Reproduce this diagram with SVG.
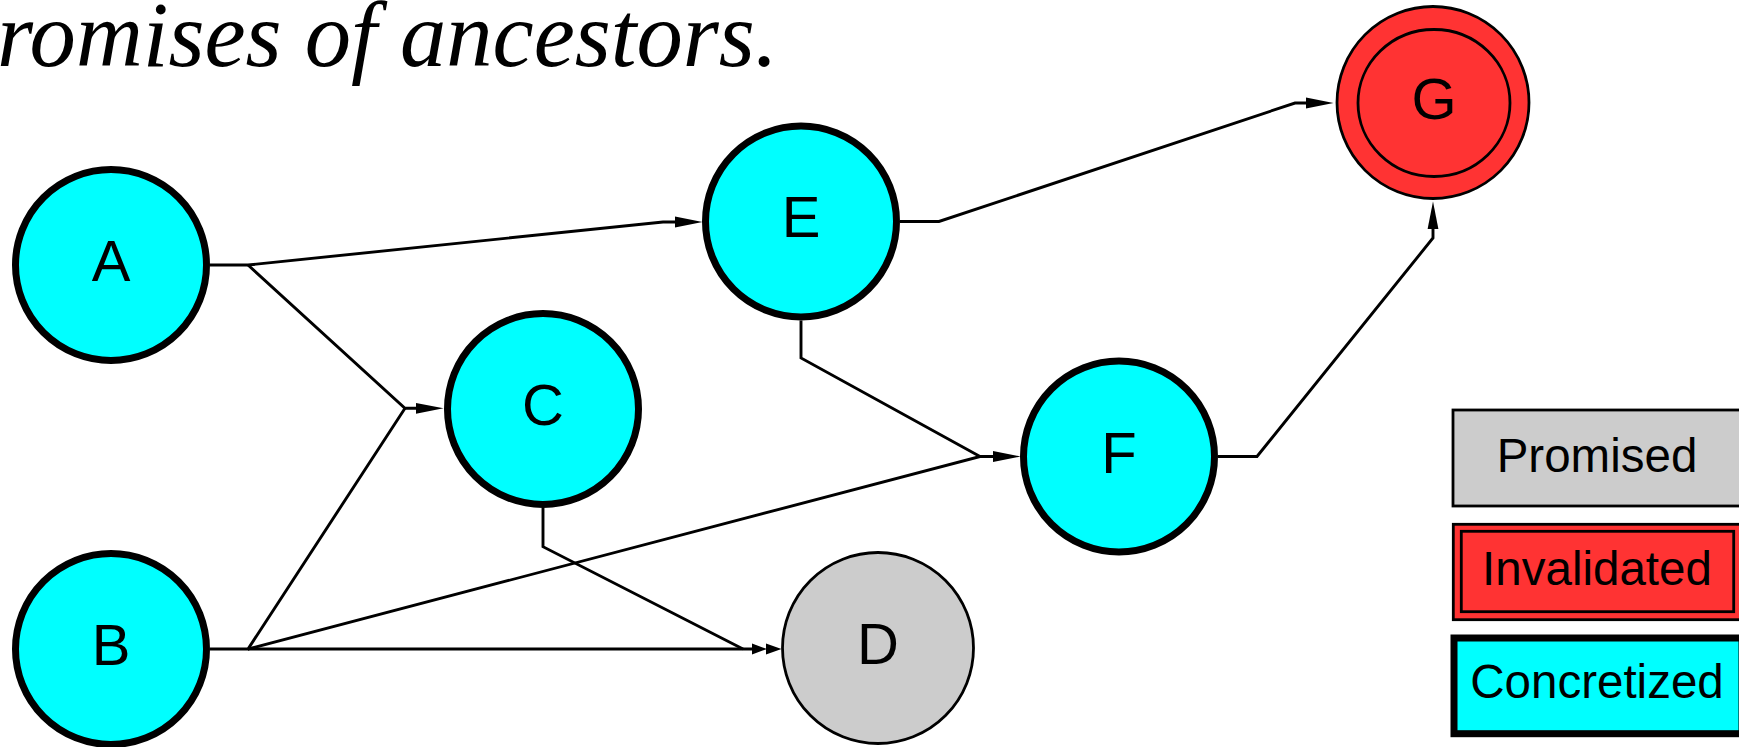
<svg xmlns="http://www.w3.org/2000/svg" width="1739" height="747" viewBox="0 0 1739 747">
  <style>
    .title { font-family: "Liberation Serif", "Times New Roman", serif; font-style: italic; font-size: 94px; fill: #000; }
    .label { font-family: "Liberation Sans", Arial, sans-serif; font-size: 58px; fill: #000; text-anchor: middle; }
    .legend { font-family: "Liberation Sans", Arial, sans-serif; font-size: 47.5px; fill: #000; text-anchor: middle; }
    .concrete { fill: #00ffff; stroke: #000; stroke-width: 7; }
    .promised { fill: #cccccc; stroke: #000; stroke-width: 2.8; }
    .invalid { fill: #ff3333; stroke: #000; stroke-width: 2.8; }
    .edge { fill: none; stroke: #000; stroke-width: 2.9; stroke-linejoin: miter; }
  </style>
  <defs>
    <marker id="arrow" markerUnits="userSpaceOnUse" markerWidth="30" markerHeight="14" viewBox="0 -7 30 14" refX="0" refY="0" orient="auto">
      <path d="M0,-5.4 L27.5,0 L0,5.4 Z" fill="#000"/>
    </marker>
    <marker id="arrow2" markerUnits="userSpaceOnUse" markerWidth="32" markerHeight="14" viewBox="0 -7 32 14" refX="0" refY="0" orient="auto">
      <path d="M0,-5.4 L15,0 L0,5.4 Z M14,-5.4 L29.5,0 L14,5.4 Z" fill="#000"/>
    </marker>
  </defs>

  <rect width="1739" height="747" fill="#fff"/>

  <text class="title" x="-3" y="66" textLength="781" lengthAdjust="spacingAndGlyphs">romises of ancestors.</text>

  <!-- connectors -->
  <g id="edges">
    <path class="edge" d="M210,265 H248 L663,222 H675" marker-end="url(#arrow)"/>
    <path class="edge" d="M248,265 L405,408.3 H416" marker-end="url(#arrow)"/>
    <path class="edge" d="M210,649 H248 L405,408.3"/>
    <path class="edge" d="M248,649 L980,456.5 H993" marker-end="url(#arrow)"/>
    <path class="edge" d="M801,320.5 V358 L980,456.5"/>
    <path class="edge" d="M248,649 H752" marker-end="url(#arrow2)"/>
    <path class="edge" d="M543,507.5 V546.7 L743,649"/>
    <path class="edge" d="M900,221.5 H939 L1295,103 H1306" marker-end="url(#arrow)"/>
    <path class="edge" d="M1218,456.5 H1257 L1433,238 V229" marker-end="url(#arrow)"/>
  </g>

  <!-- nodes -->
  <g id="node-A">
    <circle class="concrete" cx="111" cy="265" r="95.5"/>
    <text class="label" x="111" y="281">A</text>
  </g>
  <g id="node-B">
    <circle class="concrete" cx="111" cy="649" r="95.5"/>
    <text class="label" x="111" y="665">B</text>
  </g>
  <g id="node-C">
    <circle class="concrete" cx="543" cy="409" r="95.5"/>
    <text class="label" x="543" y="425">C</text>
  </g>
  <g id="node-D">
    <circle class="promised" cx="878" cy="648" r="95.5"/>
    <text class="label" x="878" y="664">D</text>
  </g>
  <g id="node-E">
    <circle class="concrete" cx="801" cy="221.5" r="95.5"/>
    <text class="label" x="801" y="237">E</text>
  </g>
  <g id="node-F">
    <circle class="concrete" cx="1119" cy="456.5" r="95.5"/>
    <text class="label" x="1119" y="472.5">F</text>
  </g>
  <g id="node-G">
    <circle class="invalid" cx="1433" cy="102.5" r="96"/>
    <ellipse class="invalid" cx="1434" cy="103" rx="76" ry="73.5"/>
    <text class="label" x="1434" y="119">G</text>
  </g>

  <!-- legend -->
  <g id="legend-promised">
    <rect class="promised" x="1453" y="410" width="288" height="96"/>
    <text class="legend" x="1597" y="472">Promised</text>
  </g>
  <g id="legend-invalidated">
    <rect class="invalid" x="1453.3" y="524.3" width="288" height="95.4"/>
    <rect class="invalid" x="1461.3" y="531.3" width="272.4" height="80.4"/>
    <text class="legend" x="1597" y="585">Invalidated</text>
  </g>
  <g id="legend-concretized">
    <rect class="concrete" x="1454" y="638" width="288" height="95.7" stroke-width="6.5"/>
    <text class="legend" x="1597" y="698">Concretized</text>
  </g>
</svg>
